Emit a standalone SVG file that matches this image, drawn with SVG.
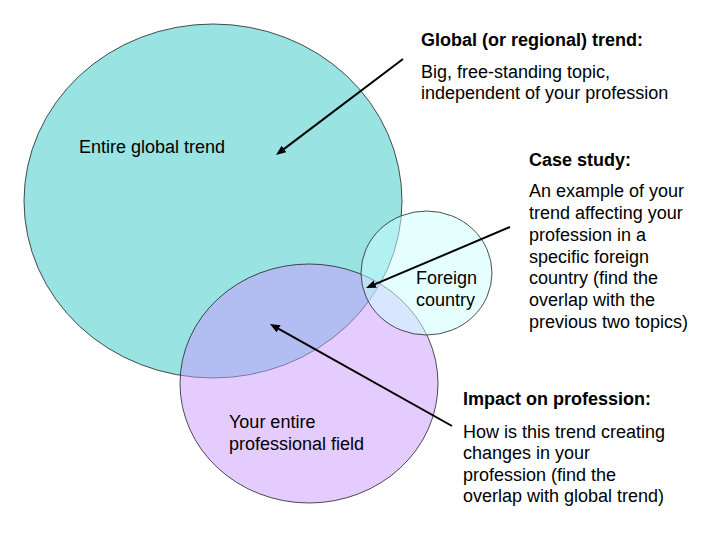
<svg xmlns="http://www.w3.org/2000/svg" width="720" height="540" viewBox="0 0 720 540">
<style>
  text { font-family: "Liberation Sans", Arial, sans-serif; font-size: 18px; fill: #000; }
  .b { font-weight: bold; }
  .shape { stroke: #222; stroke-width: 0.8; }
  .arrow { stroke: #000; stroke-width: 2; fill: none; marker-end: url(#ah); }
</style>
<defs>
  <marker id="ah" markerUnits="userSpaceOnUse" markerWidth="10" markerHeight="8" refX="4" refY="4" orient="auto">
    <path d="M0,0 L10,4 L0,8 z" fill="#000"/>
  </marker>
</defs>
<rect width="720" height="540" fill="#fff"/>
<g id="global-trend">
  <ellipse class="shape" cx="213" cy="201" rx="189" ry="177" fill="#99E3E3"/>
  <text x="79" y="153">Entire global trend</text>
</g>
<g id="professional-field">
  <ellipse class="shape" cx="309" cy="383.5" rx="129" ry="119.5" fill="#CC99FF" fill-opacity="0.5"/>
  <text x="229" y="428">Your entire</text>
  <text x="229" y="450">professional field</text>
</g>
<g id="foreign-country">
  <ellipse class="shape" cx="426.5" cy="273" rx="65.5" ry="62" fill="#CCFFFF" fill-opacity="0.5"/>
  <text x="416" y="284">Foreign</text>
  <text x="416" y="306">country</text>
</g>
<g id="label-global">
  <text class="b" x="421" y="46">Global (or regional) trend:</text>
  <text x="421" y="78">Big, free-standing topic,</text>
  <text x="421" y="99">independent of your profession</text>
</g>
<g id="label-case">
  <text class="b" x="529" y="166">Case study:</text>
  <text x="529" y="197">An example of your</text>
  <text x="529" y="219">trend affecting your</text>
  <text x="529" y="241">profession in a</text>
  <text x="529" y="263">specific foreign</text>
  <text x="529" y="284">country (find the</text>
  <text x="529" y="306">overlap with the</text>
  <text x="529" y="328">previous two topics)</text>
</g>
<g id="label-impact">
  <text class="b" x="463" y="405">Impact on profession:</text>
  <text x="463" y="438">How is this trend creating</text>
  <text x="463" y="459">changes in your</text>
  <text x="463" y="481">profession (find the</text>
  <text x="463" y="502">overlap with global trend)</text>
</g>
<g id="connectors">
  <line class="arrow" x1="403" y1="59" x2="280.8" y2="151.4"/>
  <line class="arrow" x1="510" y1="227" x2="371.5" y2="285.7"/>
  <line class="arrow" x1="452" y1="426" x2="275.2" y2="326.9"/>
</g>
</svg>
